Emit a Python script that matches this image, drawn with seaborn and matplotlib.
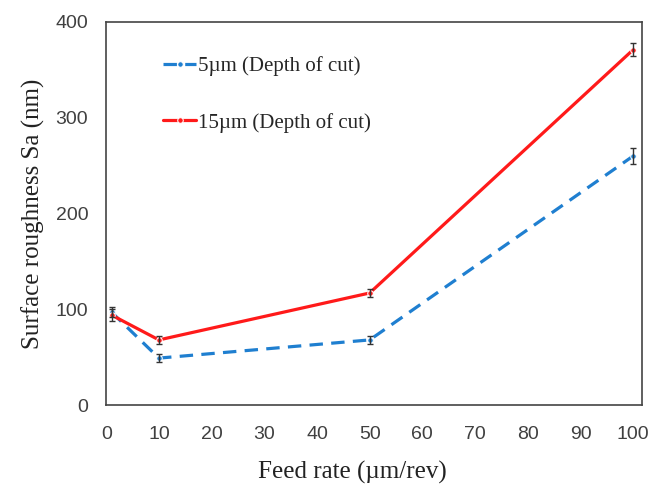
import pandas as pd
import numpy as np
import matplotlib
matplotlib.use('Agg')
import matplotlib.pyplot as plt
import seaborn as sns

# data
feed_rate = [1, 10, 50, 100]
sa_5um = [97, 49, 68, 260]
sa_15um = [94, 68, 117, 371]
err_5um = [5, 4, 4, 8]
err_15um = [6, 4, 4, 7]
labels = ['5\u00b5m (Depth of cut)', '15\u00b5m (Depth of cut)']

df = pd.DataFrame({
    'feed': feed_rate * 2,
    'sa': sa_5um + sa_15um,
    'series': [labels[0]] * 4 + [labels[1]] * 4,
})

sns.set_style('white')
plt.rcParams['font.family'] = ['Liberation Serif', 'DejaVu Serif']

fig = plt.figure(figsize=(6.64, 4.88), dpi=100)
ax = fig.add_axes([0.160, 0.170, 0.807, 0.785])

palette = {labels[0]: '#1f7fd0', labels[1]: '#ff1a1a'}
sns.lineplot(data=df, x='feed', y='sa', hue='series', style='series',
             palette=palette, dashes={labels[0]: (4.2, 2.6), labels[1]: ''},
             markers={labels[0]: 'o', labels[1]: 'o'}, markersize=4,
             linewidth=2.3, ax=ax)

# error bars
ax.errorbar(feed_rate, sa_5um, yerr=err_5um, fmt='none', ecolor='#333333',
            elinewidth=1, capsize=2.5, capthick=1)
ax.errorbar(feed_rate, sa_15um, yerr=err_15um, fmt='none', ecolor='#333333',
            elinewidth=1, capsize=2.5, capthick=1)

ax.set_xlim(0, 101.7)
ax.set_ylim(0, 400)
ax.set_xticks(range(0, 101, 10))
ax.set_yticks(range(0, 401, 100))
ax.tick_params(length=0, labelsize=14, colors='#404040')
ax.tick_params(axis='y', pad=13)
ax.tick_params(axis='x', pad=15)
for lab in ax.get_xticklabels() + ax.get_yticklabels():
    lab.set_family(['Liberation Sans', 'DejaVu Sans'])
for s in ax.spines.values():
    s.set_color('#444444')
    s.set_linewidth(1.2)

ax.set_xlabel('Feed rate (\u00b5m/rev)', fontsize=18, color='#222222')
ax.set_ylabel('Surface roughness Sa (nm)', fontsize=18, color='#222222')
ax.xaxis.set_label_coords(0.459, -0.145)
ax.yaxis.set_label_coords(-0.115, 0.50)

leg = ax.legend(loc='upper left', bbox_to_anchor=(0.071, 0.959), frameon=False,
                fontsize=15, labelspacing=1.75, handlelength=1.6, handletextpad=0.1)

fig.savefig('out.png', dpi=100)
